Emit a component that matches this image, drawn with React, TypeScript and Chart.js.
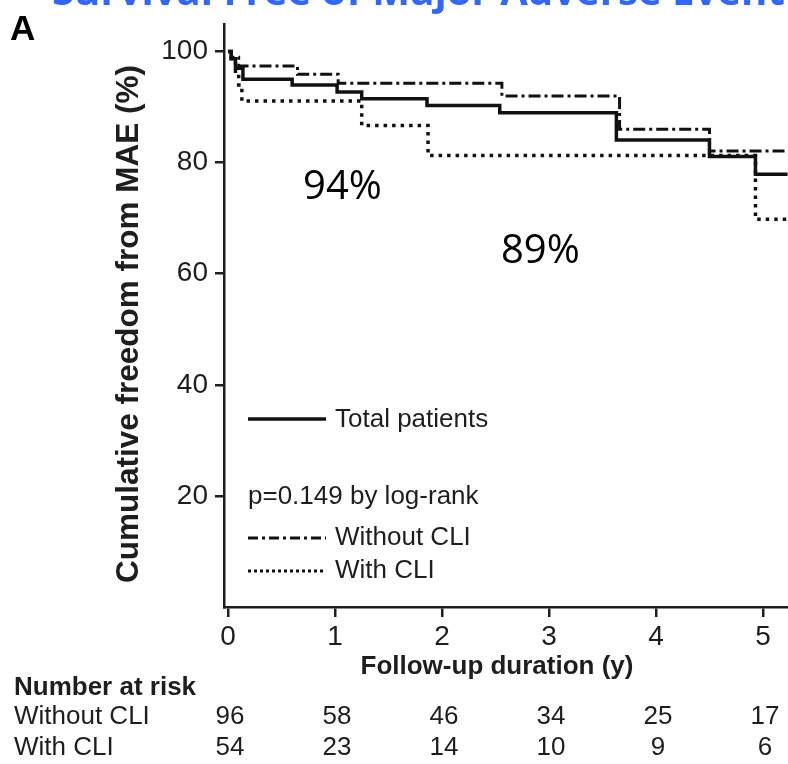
import React, { useEffect, useRef } from "react";
import { Chart, registerables } from "chart.js";

Chart.register(...registerables);

// Axis ticks
const yearTicks = [0, 1, 2, 3, 4, 5];
const survivalTicks = [20, 40, 60, 80, 100];

// Total-cohort event-free rates quoted on the plot
const oneYearRate = 94;
const threeYearRate = 89;

// Kaplan–Meier steps (years, % free from MAE)
const totalTimes = [0, 0.03, 0.07, 0.14, 0.6, 1.02, 1.25, 1.86, 2.54, 3.63, 4.5, 4.93, 5.23];
const totalSurvival = [100, 98.7, 97, 95, oneYearRate, 92.7, 91.5, 90.3, threeYearRate, 84.1, 81.1, 77.9, 77.9];

const withoutCliTimes = [0, 0.03, 0.1, 0.65, 1.03, 2.56, 3.66, 4.5, 5.23];
const withoutCliSurvival = [100, 99, 97.4, 95.9, 94.3, 92.0, 86.0, 82.1, 82.1];

const withCliTimes = [0, 0.03, 0.07, 0.1, 0.13, 1.25, 1.87, 4.93, 5.23];
const withCliSurvival = [100, 98, 96, 94, 91.1, 86.7, 81.3, 69.8, 69.8];

// Number-at-risk table
const riskGroups = ["Without CLI", "With CLI"];
const atRiskWithout = [96, 58, 46, 34, 25, 17];
const atRiskWith = [54, 23, 14, 10, 9, 6];

const SANS = "'Liberation Sans', Arial, sans-serif";
const INK = "#1e1e1e";
const LINE = "#111";

const toPoints = (xs: number[], ys: number[]) => xs.map((x, i) => ({ x, y: ys[i] }));

const overlay = {
  id: "overlay",
  afterDraw(chart: any) {
    const { ctx } = chart;
    const x = chart.scales.x;
    const y = chart.scales.y;
    ctx.save();

    // Heading (runs off the top edge)
    ctx.fillStyle = "#3366ff";
    ctx.font = "700 40px 'Open Sans', sans-serif";
    const heading = "Survival Free of Major Adverse Event";
    const w = ctx.measureText(heading).width;
    const size = (40 * 733) / w;
    ctx.font = `700 ${size}px 'Open Sans', sans-serif`;
    ctx.textAlign = "left";
    ctx.textBaseline = "alphabetic";
    ctx.fillText(heading, 52, 5);

    // Panel letter
    ctx.fillStyle = "#000";
    ctx.font = `700 35px ${SANS}`;
    ctx.textBaseline = "middle";
    ctx.fillText("A", 10, 30);

    // Axis titles
    ctx.fillStyle = INK;
    ctx.font = `700 31.5px ${SANS}`;
    ctx.textAlign = "center";
    ctx.save();
    ctx.translate(129, 324);
    ctx.rotate(-Math.PI / 2);
    ctx.fillText("Cumulative freedom from MAE (%)", 0, 0);
    ctx.restore();
    ctx.font = `700 26px ${SANS}`;
    ctx.fillText("Follow-up duration (y)", 497, 667);

    // Rate annotations
    ctx.fillStyle = "#000";
    ctx.font = "400 40px 'Open Sans', sans-serif";
    ctx.fillText(`${oneYearRate}%`, x.getPixelForValue(1.07), y.getPixelForValue(75.5));
    ctx.fillText(`${threeYearRate}%`, x.getPixelForValue(2.92), y.getPixelForValue(64));

    // Legend block
    ctx.fillStyle = INK;
    ctx.textAlign = "left";
    ctx.font = `400 26px ${SANS}`;
    const sample = (yy: number, width: number, dash: number[]) => {
      ctx.save();
      ctx.strokeStyle = LINE;
      ctx.lineWidth = width;
      ctx.setLineDash(dash);
      ctx.beginPath();
      ctx.moveTo(248, yy);
      ctx.lineTo(326, yy);
      ctx.stroke();
      ctx.restore();
    };
    sample(419, 3.5, []);
    ctx.fillText("Total patients", 335, 420);
    ctx.fillText("p=0.149 by log-rank", 248, 497);
    sample(538, 3, [10, 4, 3, 4]);
    ctx.fillText("Without CLI", 335, 538);
    sample(571, 3, [3, 3]);
    ctx.fillText("With CLI", 335, 571);

    // Number at risk
    ctx.font = `700 26px ${SANS}`;
    ctx.fillText("Number at risk", 14, 688);
    ctx.font = `400 26px ${SANS}`;
    const rows = [atRiskWithout, atRiskWith];
    const rowY = [717, 748];
    rows.forEach((row, r) => {
      ctx.textAlign = "left";
      ctx.fillText(riskGroups[r], 14, rowY[r]);
      ctx.textAlign = "center";
      row.forEach((n, i) => {
        ctx.fillText(String(n), x.getPixelForValue(yearTicks[i]) + 2, rowY[r]);
      });
    });

    ctx.restore();
  },
};

export default function App() {
  const ref = useRef<HTMLCanvasElement | null>(null);

  useEffect(() => {
    if (!ref.current) return;
    const chart = new Chart(ref.current, {
      type: "line",
      data: {
        datasets: [
          {
            label: "Total patients",
            data: toPoints(totalTimes, totalSurvival),
            borderColor: LINE,
            borderWidth: 3.5,
            stepped: "before",
            pointRadius: 0,
            fill: false,
          },
          {
            label: "Without CLI",
            data: toPoints(withoutCliTimes, withoutCliSurvival),
            borderColor: LINE,
            borderWidth: 3,
            borderDash: [12, 4, 3, 4],
            stepped: "before",
            pointRadius: 0,
            fill: false,
          },
          {
            label: "With CLI",
            data: toPoints(withCliTimes, withCliSurvival),
            borderColor: LINE,
            borderWidth: 3.5,
            borderDash: [3.5, 5],
            stepped: "before",
            pointRadius: 0,
            fill: false,
          },
        ],
      },
      options: {
        responsive: false,
        animation: false,
        events: [],
        layout: { padding: { top: 21, right: 0, bottom: 0, left: 0 } },
        plugins: {
          legend: { display: false },
          tooltip: { enabled: false },
          title: { display: false },
        },
        scales: {
          x: {
            type: "linear",
            min: -0.037,
            max: 5.234,
            afterFit: (s: any) => {
              s.height = 157;
            },
            afterBuildTicks: (s: any) => {
              s.ticks = yearTicks.map((v) => ({ value: v }));
            },
            ticks: {
              font: { family: SANS, size: 28 },
              color: INK,
              padding: 3,
              maxRotation: 0,
              autoSkip: false,
            },
            grid: {
              drawOnChartArea: false,
              drawTicks: true,
              tickLength: 10,
              color: INK,
              lineWidth: 2.5,
            },
            border: { display: true, color: INK, width: 2.5 },
          },
          y: {
            type: "linear",
            min: 0,
            max: 105,
            afterFit: (s: any) => {
              s.width = 224;
            },
            afterBuildTicks: (s: any) => {
              s.ticks = survivalTicks.map((v) => ({ value: v }));
            },
            ticks: {
              font: { family: SANS, size: 28 },
              color: INK,
              padding: 7,
              autoSkip: false,
            },
            grid: {
              drawOnChartArea: false,
              drawTicks: true,
              tickLength: 9,
              color: INK,
              lineWidth: 2.5,
            },
            border: { display: true, color: INK, width: 2.5 },
          },
        },
      },
      plugins: [overlay],
    });
    return () => chart.destroy();
  }, []);

  return (
    <div style={{ position: "absolute", left: 0, top: 0, width: 788, height: 764, background: "#fff" }}>
      <canvas ref={ref} width={788} height={764} style={{ display: "block", width: 788, height: 764 }} />
    </div>
  );
}
